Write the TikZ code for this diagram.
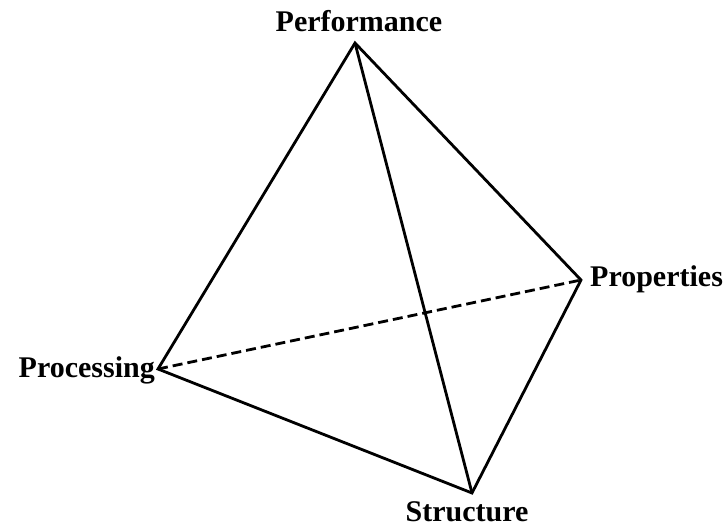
\documentclass[tikz,border=0pt]{standalone}
\usepackage{fontspec}
\setmainfont{Liberation Serif}
\usetikzlibrary{positioning}

\begin{document}
\begin{tikzpicture}[
    x=1pt, y=-1pt,
    every node/.style={font=\fontsize{30}{34}\selectfont\bfseries, inner sep=0pt},
    edge/.style={line width=2.8pt, line join=miter},
    hidden/.style={line width=2.8pt, dash pattern=on 10pt off 5pt},
]
\useasboundingbox (0,0) rectangle (726,527);

% Corners
\coordinate (perf) at (355,43);
\coordinate (prop) at (581,280);
\coordinate (proc) at (158,369);
\coordinate (struc) at (472,493);

% Labels
\node[anchor=base] (perflabel) at (359,32) {Performance};
\node[anchor=base west] (proplabel) at (590,286) {Properties};
\node[anchor=base east] (proclabel) at (155,377) {Processing};
\node[anchor=base] (struclabel) at (467,521) {Structure};

% Edges
\draw[edge] (proc) -- (perf) -- (prop) -- (struc) -- cycle;
\draw[edge] (perf) -- (struc);
\draw[hidden] (proc) -- (prop);

\end{tikzpicture}
\end{document}
